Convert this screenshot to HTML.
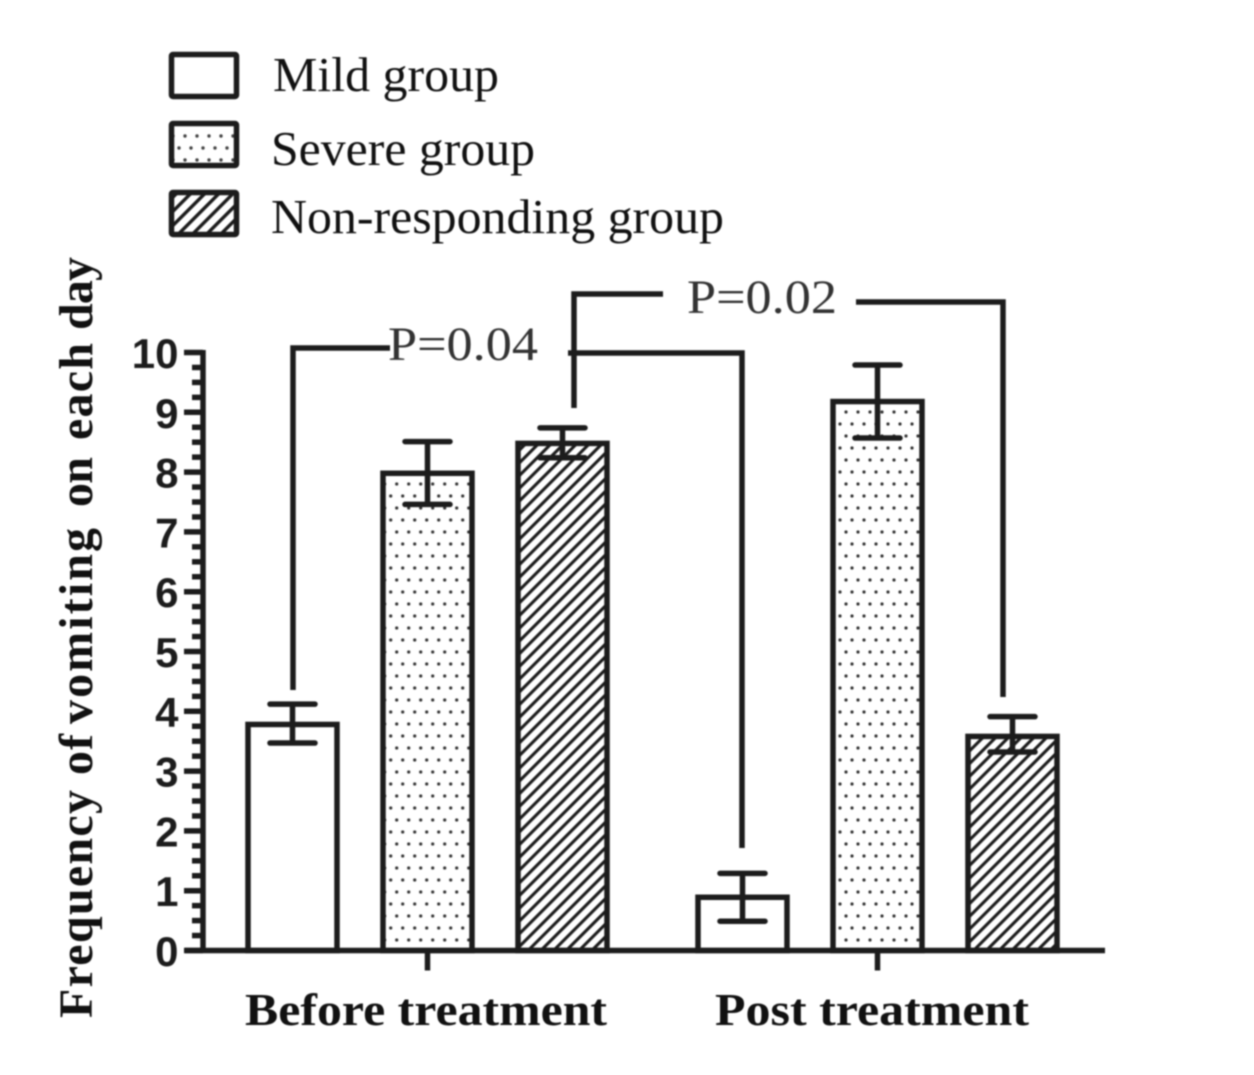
<!DOCTYPE html>
<html lang="en">
<head>
<meta charset="utf-8">
<title>Frequency of vomiting on each day</title>
<style>
html,body{margin:0;padding:0;background:#fff;}
svg{display:block;filter:blur(0.75px);}
.serif{font-family:"Liberation Serif",serif;fill:#111;}
.sans{font-family:"Liberation Sans",sans-serif;font-weight:bold;fill:#1c1c1c;}
.ytitle{font-family:"Liberation Serif",serif;font-weight:bold;font-size:48px;fill:#111;}
</style>
</head>
<body>
<svg id="chart" width="1254" height="1075" viewBox="0 0 1254 1075" xmlns="http://www.w3.org/2000/svg">
  <defs>
    <pattern id="dots-before" width="24" height="24" patternUnits="userSpaceOnUse" x="-2.3" y="937">
      <circle cx="3" cy="3" r="1.6" fill="#333"/>
      <circle cx="15" cy="3" r="1.6" fill="#333"/>
      <circle cx="9" cy="15" r="1.6" fill="#333"/>
      <circle cx="21" cy="15" r="1.6" fill="#333"/>
    </pattern>
    <pattern id="dots-post" width="24" height="24" patternUnits="userSpaceOnUse" x="3" y="937">
      <circle cx="3" cy="3" r="1.6" fill="#333"/>
      <circle cx="15" cy="3" r="1.6" fill="#333"/>
      <circle cx="9" cy="15" r="1.6" fill="#333"/>
      <circle cx="21" cy="15" r="1.6" fill="#333"/>
    </pattern>
    <pattern id="dots-legend" width="24" height="24" patternUnits="userSpaceOnUse" x="2" y="157">
      <circle cx="3" cy="3" r="1.7" fill="#444"/>
      <circle cx="15" cy="3" r="1.7" fill="#444"/>
      <circle cx="9" cy="15" r="1.7" fill="#444"/>
      <circle cx="21" cy="15" r="1.7" fill="#444"/>
    </pattern>
    <pattern id="hatch" width="9" height="9" patternUnits="userSpaceOnUse" patternTransform="rotate(45)">
      <rect width="9" height="9" fill="#fff"/>
      <rect x="0" y="0" width="3.1" height="9" fill="#1c1c1c"/>
    </pattern>
    <pattern id="hatch-legend" width="10" height="10" patternUnits="userSpaceOnUse" patternTransform="rotate(45)">
      <rect width="10" height="10" fill="#fff"/>
      <rect x="0" y="0" width="3.4" height="10" fill="#1c1c1c"/>
    </pattern>
  </defs>

  <g id="legend">
    <g>
      <rect x="171.5" y="54.5" width="65" height="42" rx="1.5" fill="#fff" stroke="#1c1c1c" stroke-width="5.5"/>
      <text class="serif" x="273" y="91" font-size="49" textLength="226" lengthAdjust="spacingAndGlyphs">Mild group</text>
    </g>
    <g>
      <rect x="171.5" y="123.5" width="65" height="42" rx="1.5" fill="url(#dots-legend)" stroke="#1c1c1c" stroke-width="5.5"/>
      <text class="serif" x="271" y="165" font-size="49" textLength="264" lengthAdjust="spacingAndGlyphs">Severe group</text>
    </g>
    <g>
      <rect x="171.5" y="192.5" width="65" height="42" rx="1.5" fill="url(#hatch-legend)" stroke="#1c1c1c" stroke-width="5.5"/>
      <text class="serif" x="271" y="233" font-size="49" textLength="453" lengthAdjust="spacingAndGlyphs">Non-responding group</text>
    </g>
  </g>

  <g>
    <text class="ytitle" transform="translate(92,1018) rotate(-90)" textLength="228" lengthAdjust="spacing">Frequency</text>
    <text class="ytitle" transform="translate(92,775) rotate(-90)" textLength="41" lengthAdjust="spacing">of</text>
    <text class="ytitle" transform="translate(92,724) rotate(-90)" textLength="196" lengthAdjust="spacing">vomiting</text>
    <text class="ytitle" transform="translate(92,507) rotate(-90)" textLength="50" lengthAdjust="spacing">on</text>
    <text class="ytitle" transform="translate(92,440) rotate(-90)" textLength="97" lengthAdjust="spacing">each</text>
    <text class="ytitle" transform="translate(92,330) rotate(-90)" textLength="73" lengthAdjust="spacing">day</text>
  </g>

  <g id="bars"></g>
  <g id="axes"></g>

  <g fill="none" stroke="#1c1c1c" stroke-width="5.5">
    <path d="M293 690V348H390"/>
    <path d="M568 353H742V848"/>
    <path d="M574 408V294H663"/>
    <path d="M856 302H1003V697"/>
  </g>
  <text class="serif" x="388" y="360" font-size="48" textLength="150" lengthAdjust="spacingAndGlyphs" style="fill:#333">P=0.04</text>
  <text class="serif" x="687" y="313" font-size="48" textLength="150" lengthAdjust="spacingAndGlyphs" style="fill:#333">P=0.02</text>
</svg>
<script>
const groups = ['Before treatment', 'Post treatment'];
const seriesNames = ['Mild group', 'Severe group', 'Non-responding group'];
const beforeValues = [3.78, 7.98, 8.48];
const postValues = [0.89, 9.18, 3.58];
const beforeUpper = [4.12, 8.51, 8.74];
const beforeLower = [3.47, 7.46, 8.24];
const postUpper = [1.29, 9.79, 3.91];
const postLower = [0.49, 8.57, 3.32];
const yTickLabels = ['0', '1', '2', '3', '4', '5', '6', '7', '8', '9', '10'];

const NS = 'http://www.w3.org/2000/svg';
const fills = [
  ['#fff', 'url(#dots-before)', 'url(#hatch)'],
  ['#fff', 'url(#dots-post)', 'url(#hatch)']
];
const ink = '#1c1c1c';
const y = v => 950.5 - v * 59.8;
const groupCenter = g => 427.5 + g * 450;
const barCenter = (g, s) => groupCenter(g) + (s - 1) * 135;
const barWidth = 89;
const capWidth = 45;
const barsG = document.getElementById('bars');
const axesG = document.getElementById('axes');

function make(tag, attrs, parent) {
  const el = document.createElementNS(NS, tag);
  for (const k in attrs) el.setAttribute(k, attrs[k]);
  parent.appendChild(el);
  return el;
}

[[beforeValues, beforeUpper, beforeLower], [postValues, postUpper, postLower]].forEach((set, g) => {
  const [vals, up, lo] = set;
  vals.forEach((v, s) => {
    const cx = barCenter(g, s);
    const bar = make('rect', {x: cx - barWidth / 2, y: y(v), width: barWidth, height: y(0) - y(v), fill: fills[g][s], stroke: ink, 'stroke-width': 5.5}, barsG);
    
    
    const tl = make('title', {}, bar);
    tl.textContent = groups[g] + ' - ' + seriesNames[s];
    const err = make('path', {d: `M${cx - capWidth / 2} ${y(up[s])}H${cx + capWidth / 2}M${cx} ${y(up[s])}V${y(lo[s])}M${cx - capWidth / 2} ${y(lo[s])}H${cx + capWidth / 2}`, fill: 'none', stroke: ink, 'stroke-width': 5.5, 'stroke-linecap': 'round'}, barsG);
    
    
  });
});

const yAxisLine = make('line', {x1: 203, x2: 203, y1: y(10) - 2.5, y2: y(0) + 2.5, stroke: ink, 'stroke-width': 5.5}, axesG);


const xAxisLine = make('line', {x1: 185, x2: 1105, y1: y(0), y2: y(0), stroke: ink, 'stroke-width': 5.5}, axesG);



yTickLabels.forEach((label, i) => {
  const v = Number(label);
  const tick = make('line', {x1: 184, x2: 203, y1: y(v), y2: y(v), stroke: ink, 'stroke-width': 5.5}, axesG);
  
  
  const t = make('text', {x: 178.5, y: y(v) + 15.5, 'text-anchor': 'end', 'font-size': 42, class: 'sans'}, axesG);
  
  
  t.textContent = label;
  if (i < yTickLabels.length - 1) {
    [0.25, 0.5, 0.75].forEach(f => {
      const minor = make('line', {x1: 192, x2: 203, y1: y(v + f), y2: y(v + f), stroke: ink, 'stroke-width': 5.5}, axesG);
      
      
    });
  }
});

groups.forEach((g, i) => {
  const tick = make('line', {x1: groupCenter(i), x2: groupCenter(i), y1: y(0), y2: y(0) + 20, stroke: ink, 'stroke-width': 5.5}, axesG);
  
  
  const t = make('text', {x: i === 0 ? 426 : 872, y: 1025, 'text-anchor': 'middle', 'font-size': 46, 'font-weight': 'bold', class: 'serif', textLength: i === 0 ? 362 : 314, lengthAdjust: 'spacingAndGlyphs'}, axesG);
  
  
  t.textContent = g;
});
</script>
</body>
</html>
